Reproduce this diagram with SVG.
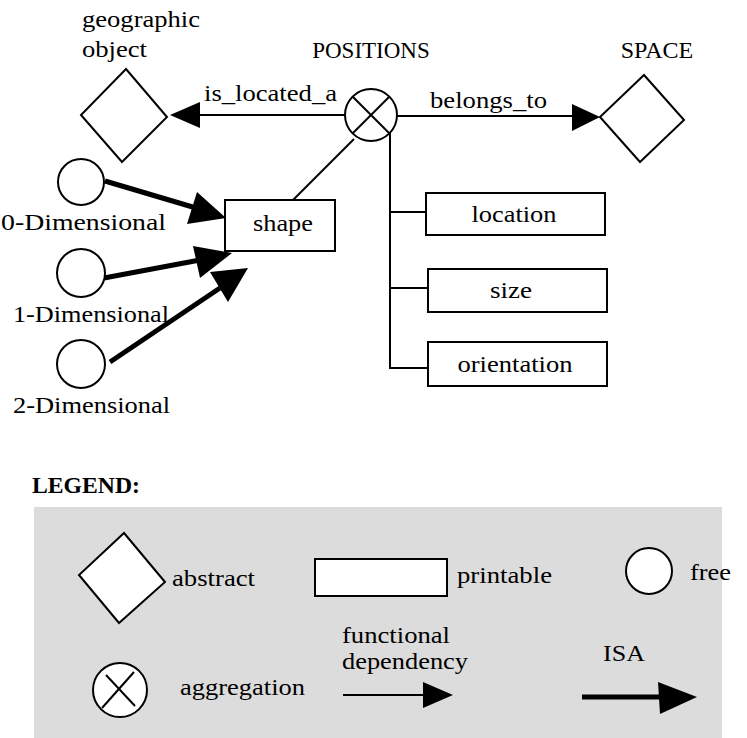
<svg xmlns="http://www.w3.org/2000/svg" width="747" height="738" viewBox="0 0 747 738">
<style>
text{font-family:'Liberation Serif','Tinos','Times New Roman','DejaVu Serif',serif;font-size:24px;fill:#000}
.shape{fill:#fff;stroke:#000;stroke-width:2}
.fd{stroke:#000;stroke-width:2;fill:none}
.isa{stroke:#000;stroke-width:5;fill:none}
.head{fill:#000;stroke:none}
.mid{text-anchor:middle}
</style>
<rect x="0" y="0" width="747" height="738" fill="#fff"/>

<g id="connectors">
  <line class="fd" x1="345" y1="115" x2="196" y2="115"/>
  <polygon class="head" points="170,115 200,102 200,128"/>
  <line class="fd" x1="397" y1="116" x2="576" y2="116"/>
  <polygon class="head" points="600,117 572,104 572,131"/>
  <line class="fd" x1="354" y1="139" x2="293" y2="200"/>
  <polyline class="fd" points="390,133 390,368 428,368"/>
  <line class="fd" x1="389" y1="212" x2="426" y2="212"/>
  <line class="fd" x1="389" y1="288" x2="428" y2="288"/>
  <line class="isa" x1="105" y1="181" x2="196" y2="208"/>
  <polygon class="head" points="226,218 197,192 187,224"/>
  <line class="isa" x1="104" y1="278" x2="200" y2="260"/>
  <polygon class="head" points="232,253 193,246 200,278"/>
  <line class="isa" x1="110" y1="362" x2="220" y2="288"/>
  <polygon class="head" points="248,268 210,272 228,302"/>
</g>

<g id="geographic-object">
  <polygon class="shape" points="126,69 167,117 122,162 81,115"/>
  <text x="82" y="27" textLength="118" lengthAdjust="spacingAndGlyphs">geographic</text>
  <text x="82" y="57" textLength="65" lengthAdjust="spacingAndGlyphs">object</text>
</g>

<g id="positions">
  <circle class="shape" cx="371" cy="115" r="26"/>
  <line class="fd" x1="353" y1="97" x2="389" y2="133"/>
  <line class="fd" x1="389" y1="97" x2="353" y2="133"/>
  <text class="mid" x="371" y="58" style="font-size:23px">POSITIONS</text>
</g>
<text x="204" y="101" textLength="133" lengthAdjust="spacingAndGlyphs">is_located_a</text>
<text x="430" y="108" textLength="117" lengthAdjust="spacingAndGlyphs">belongs_to</text>

<g id="space">
  <polygon class="shape" points="644,75 684,120 640,162 600,117"/>
  <text class="mid" x="657" y="58">SPACE</text>
</g>

<g id="shape">
  <rect class="shape" x="225" y="200" width="110" height="51"/>
  <text class="mid" x="283" y="231" textLength="60" lengthAdjust="spacingAndGlyphs">shape</text>
</g>

<g id="location">
  <rect class="shape" x="426" y="193" width="179" height="42"/>
  <text class="mid" x="514" y="222" textLength="85" lengthAdjust="spacingAndGlyphs">location</text>
</g>
<g id="size">
  <rect class="shape" x="428" y="269" width="179" height="43"/>
  <text class="mid" x="511" y="298" textLength="42" lengthAdjust="spacingAndGlyphs">size</text>
</g>
<g id="orientation">
  <rect class="shape" x="428" y="342" width="179" height="44"/>
  <text class="mid" x="515" y="372" textLength="115" lengthAdjust="spacingAndGlyphs">orientation</text>
</g>

<g id="dim0">
  <circle class="shape" cx="81" cy="182" r="23"/>
  <text x="1" y="230" textLength="165" lengthAdjust="spacingAndGlyphs">0-Dimensional</text>
</g>
<g id="dim1">
  <circle class="shape" cx="81" cy="273" r="24"/>
  <text x="13" y="322" textLength="156" lengthAdjust="spacingAndGlyphs">1-Dimensional</text>
</g>
<g id="dim2">
  <circle class="shape" cx="81" cy="364" r="24"/>
  <text x="13" y="413" textLength="157" lengthAdjust="spacingAndGlyphs">2-Dimensional</text>
</g>

<g id="legend">
  <text x="32" y="493" style="font-weight:bold" textLength="108" lengthAdjust="spacingAndGlyphs">LEGEND:</text>
  <rect x="34" y="507" width="688" height="231" fill="#dcdcdc"/>
  <polygon class="shape" points="124,533 165,582 119,623 79,575"/>
  <text x="172" y="586" textLength="83" lengthAdjust="spacingAndGlyphs">abstract</text>
  <rect class="shape" x="315" y="559" width="132" height="37"/>
  <text x="457" y="583" textLength="95" lengthAdjust="spacingAndGlyphs">printable</text>
  <circle class="shape" cx="649" cy="571" r="23"/>
  <text x="690" y="580" textLength="41" lengthAdjust="spacingAndGlyphs">free</text>
  <circle class="shape" cx="120" cy="690" r="27"/>
  <line class="fd" x1="102" y1="708" x2="134" y2="672"/>
  <line class="fd" x1="106" y1="675" x2="135" y2="706"/>
  <text x="180" y="695" textLength="125" lengthAdjust="spacingAndGlyphs">aggregation</text>
  <text x="342" y="643" textLength="108" lengthAdjust="spacingAndGlyphs">functional</text>
  <text x="342" y="669" textLength="126" lengthAdjust="spacingAndGlyphs">dependency</text>
  <line class="fd" x1="343" y1="695" x2="425" y2="695"/>
  <polygon class="head" points="453,695 423,682 423,708"/>
  <text x="603" y="661" textLength="42" lengthAdjust="spacingAndGlyphs">ISA</text>
  <line class="isa" x1="582" y1="697" x2="660" y2="697"/>
  <polygon class="head" points="697,697 658,682 660,714"/>
</g>
</svg>
